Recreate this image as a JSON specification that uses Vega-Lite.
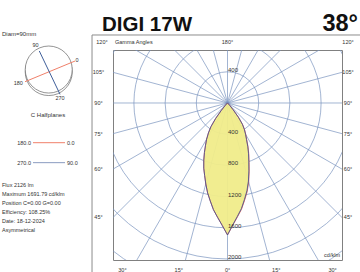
{
  "$schema": "https://vega.github.io/schema/vega-lite/v6.json",
  "width": 229,
  "height": 210,
  "autosize": {"type": "none"},
  "padding": {"left": 113, "top": 50, "right": 18, "bottom": 12},
  "background": "white",
  "data": {"values": [{}]},
  "config": {
    "view": {"stroke": "#808080", "strokeWidth": 1},
    "font": "Liberation Sans",
    "text": {"font": "Liberation Sans", "color": "#333333", "fontSize": 6}
  },
  "datasets": {
    "curves": [
      {"plane": "C0-C180", "angle": -50, "I": 0},
      {"plane": "C0-C180", "angle": -45, "I": 15},
      {"plane": "C0-C180", "angle": -42.5, "I": 50},
      {"plane": "C0-C180", "angle": -40, "I": 120},
      {"plane": "C0-C180", "angle": -37.5, "I": 250},
      {"plane": "C0-C180", "angle": -35, "I": 370},
      {"plane": "C0-C180", "angle": -32.5, "I": 455},
      {"plane": "C0-C180", "angle": -30, "I": 535},
      {"plane": "C0-C180", "angle": -27.5, "I": 610},
      {"plane": "C0-C180", "angle": -25, "I": 700},
      {"plane": "C0-C180", "angle": -22.5, "I": 795},
      {"plane": "C0-C180", "angle": -20, "I": 890},
      {"plane": "C0-C180", "angle": -17.5, "I": 975},
      {"plane": "C0-C180", "angle": -15, "I": 1075},
      {"plane": "C0-C180", "angle": -12.5, "I": 1180},
      {"plane": "C0-C180", "angle": -10, "I": 1275},
      {"plane": "C0-C180", "angle": -7.5, "I": 1380},
      {"plane": "C0-C180", "angle": -5, "I": 1470},
      {"plane": "C0-C180", "angle": -2.5, "I": 1570},
      {"plane": "C0-C180", "angle": 0, "I": 1691.79},
      {"plane": "C0-C180", "angle": 2.5, "I": 1568},
      {"plane": "C0-C180", "angle": 5, "I": 1466},
      {"plane": "C0-C180", "angle": 7.5, "I": 1375},
      {"plane": "C0-C180", "angle": 10, "I": 1265},
      {"plane": "C0-C180", "angle": 12.5, "I": 1165},
      {"plane": "C0-C180", "angle": 15, "I": 1050},
      {"plane": "C0-C180", "angle": 17.5, "I": 925},
      {"plane": "C0-C180", "angle": 20, "I": 810},
      {"plane": "C0-C180", "angle": 22.5, "I": 715},
      {"plane": "C0-C180", "angle": 25, "I": 625},
      {"plane": "C0-C180", "angle": 27.5, "I": 535},
      {"plane": "C0-C180", "angle": 30, "I": 470},
      {"plane": "C0-C180", "angle": 32.5, "I": 410},
      {"plane": "C0-C180", "angle": 35, "I": 340},
      {"plane": "C0-C180", "angle": 37.5, "I": 235},
      {"plane": "C0-C180", "angle": 40, "I": 115},
      {"plane": "C0-C180", "angle": 42.5, "I": 50},
      {"plane": "C0-C180", "angle": 45, "I": 15},
      {"plane": "C0-C180", "angle": 50, "I": 0},
      {"plane": "C90-C270", "angle": -50, "I": 0},
      {"plane": "C90-C270", "angle": -45, "I": 15},
      {"plane": "C90-C270", "angle": -42.5, "I": 50},
      {"plane": "C90-C270", "angle": -40, "I": 120},
      {"plane": "C90-C270", "angle": -37.5, "I": 250},
      {"plane": "C90-C270", "angle": -35, "I": 370},
      {"plane": "C90-C270", "angle": -32.5, "I": 455},
      {"plane": "C90-C270", "angle": -30, "I": 535},
      {"plane": "C90-C270", "angle": -27.5, "I": 610},
      {"plane": "C90-C270", "angle": -25, "I": 700},
      {"plane": "C90-C270", "angle": -22.5, "I": 795},
      {"plane": "C90-C270", "angle": -20, "I": 890},
      {"plane": "C90-C270", "angle": -17.5, "I": 975},
      {"plane": "C90-C270", "angle": -15, "I": 1075},
      {"plane": "C90-C270", "angle": -12.5, "I": 1180},
      {"plane": "C90-C270", "angle": -10, "I": 1275},
      {"plane": "C90-C270", "angle": -7.5, "I": 1380},
      {"plane": "C90-C270", "angle": -5, "I": 1470},
      {"plane": "C90-C270", "angle": -2.5, "I": 1570},
      {"plane": "C90-C270", "angle": 0, "I": 1691.79},
      {"plane": "C90-C270", "angle": 2.5, "I": 1562},
      {"plane": "C90-C270", "angle": 5, "I": 1458},
      {"plane": "C90-C270", "angle": 7.5, "I": 1365},
      {"plane": "C90-C270", "angle": 10, "I": 1254},
      {"plane": "C90-C270", "angle": 12.5, "I": 1152},
      {"plane": "C90-C270", "angle": 15, "I": 1036},
      {"plane": "C90-C270", "angle": 17.5, "I": 912},
      {"plane": "C90-C270", "angle": 20, "I": 798},
      {"plane": "C90-C270", "angle": 22.5, "I": 704},
      {"plane": "C90-C270", "angle": 25, "I": 615},
      {"plane": "C90-C270", "angle": 27.5, "I": 527},
      {"plane": "C90-C270", "angle": 30, "I": 462},
      {"plane": "C90-C270", "angle": 32.5, "I": 402},
      {"plane": "C90-C270", "angle": 35, "I": 332},
      {"plane": "C90-C270", "angle": 37.5, "I": 228},
      {"plane": "C90-C270", "angle": 40, "I": 110},
      {"plane": "C90-C270", "angle": 42.5, "I": 46},
      {"plane": "C90-C270", "angle": 45, "I": 13},
      {"plane": "C90-C270", "angle": 50, "I": 0}
    ],
    "rings": [{"I": 400}, {"I": 800}, {"I": 1200}, {"I": 1600}, {"I": 2000}, {"I": 2400}],
    "ringLabels": [
      {"gamma": 180, "I": 400},
      {"gamma": 0, "I": 400},
      {"gamma": 0, "I": 800},
      {"gamma": 0, "I": 1200},
      {"gamma": 0, "I": 1600},
      {"gamma": 0, "I": 2000}
    ],
    "spokes": [
      {"gamma": 0}, {"gamma": 15}, {"gamma": 30}, {"gamma": 45}, {"gamma": 60}, {"gamma": 75},
      {"gamma": 90}, {"gamma": 105}, {"gamma": 120}, {"gamma": 135}, {"gamma": 150}, {"gamma": 165},
      {"gamma": 180}, {"gamma": 195}, {"gamma": 210}, {"gamma": 225}, {"gamma": 240}, {"gamma": 255},
      {"gamma": 270}, {"gamma": 285}, {"gamma": 300}, {"gamma": 315}, {"gamma": 330}, {"gamma": 345}
    ],
    "sideLabels": [{"gamma": 45}, {"gamma": 60}, {"gamma": 75}, {"gamma": 90}, {"gamma": 105}],
    "bottomLabels": [{"gamma": -30}, {"gamma": -15}, {"gamma": 0}, {"gamma": 15}, {"gamma": 30}]
  },
  "layer": [
    {
      "transform": [{"calculate": "-1737", "as": "xa"}, {"calculate": "1800", "as": "xb"}, {"calculate": "872", "as": "ya"}],
      "mark": {"type": "rule", "color": "#8c8c8c", "strokeWidth": 1},
      "encoding": {
        "x": {"field": "xa", "type": "quantitative", "scale": {"domain": [-1468, 1468], "nice": false, "zero": false}, "axis": null},
        "x2": {"field": "xb"},
        "y": {"field": "ya", "type": "quantitative", "scale": {"domain": [-2013, 679.5], "nice": false, "zero": false}, "axis": null}
      }
    },
    {
      "transform": [{"calculate": "-1737", "as": "xa"}, {"calculate": "872", "as": "ya"}, {"calculate": "-2300", "as": "yb"}],
      "mark": {"type": "rule", "color": "#8c8c8c", "strokeWidth": 1},
      "encoding": {
        "x": {"field": "xa", "type": "quantitative", "axis": null},
        "y": {"field": "ya", "type": "quantitative", "axis": null},
        "y2": {"field": "yb"}
      }
    },
    {
      "data": {"name": "spokes"},
      "transform": [
        {"calculate": "0", "as": "cx"},
        {"calculate": "0", "as": "cy"},
        {"calculate": "3200*sin(datum.gamma*PI/180)", "as": "ex"},
        {"calculate": "-3200*cos(datum.gamma*PI/180)", "as": "ey"}
      ],
      "mark": {"type": "rule", "color": "#7a93bf", "strokeWidth": 0.7, "clip": true},
      "encoding": {
        "x": {"field": "cx", "type": "quantitative", "axis": null},
        "y": {"field": "cy", "type": "quantitative", "axis": null},
        "x2": {"field": "ex"},
        "y2": {"field": "ey"}
      }
    },
    {
      "data": {"name": "rings"},
      "mark": {"type": "point", "shape": "circle", "filled": false, "stroke": "#7a93bf", "strokeWidth": 0.7, "opacity": 1, "clip": true},
      "encoding": {
        "x": {"datum": 0, "type": "quantitative", "axis": null},
        "y": {"datum": 0, "type": "quantitative", "axis": null},
        "size": {"field": "I", "type": "quantitative", "scale": {"type": "pow", "exponent": 2, "domain": [0, 2000], "range": [0, 97344]}, "legend": null}
      }
    },
    {
      "data": {"name": "curves"},
      "transform": [
        {"filter": "datum.plane == 'C0-C180'"},
        {"calculate": "datum.I*sin(datum.angle*PI/180)", "as": "px"},
        {"calculate": "-datum.I*cos(datum.angle*PI/180)", "as": "py"}
      ],
      "mark": {"type": "line", "fill": "#f0ec8a", "fillOpacity": 0.95, "strokeWidth": 0, "interpolate": "linear-closed"},
      "encoding": {
        "x": {"field": "px", "type": "quantitative", "axis": null},
        "y": {"field": "py", "type": "quantitative", "axis": null},
        "order": {"field": "angle", "type": "quantitative"}
      }
    },
    {
      "data": {"name": "curves"},
      "transform": [
        {"calculate": "datum.I*sin(datum.angle*PI/180)", "as": "px"},
        {"calculate": "-datum.I*cos(datum.angle*PI/180)", "as": "py"}
      ],
      "mark": {"type": "line", "strokeWidth": 0.8},
      "encoding": {
        "x": {"field": "px", "type": "quantitative", "axis": null},
        "y": {"field": "py", "type": "quantitative", "axis": null},
        "order": {"field": "angle", "type": "quantitative"},
        "color": {"field": "plane", "type": "nominal", "scale": {"domain": ["C0-C180", "C90-C270"], "range": ["#d9534f", "#3d4f93"]}, "legend": null}
      }
    },
    {
      "data": {"name": "ringLabels"},
      "transform": [{"calculate": "-datum.I*cos(datum.gamma*PI/180)", "as": "ly"}],
      "mark": {"type": "text", "align": "left", "baseline": "middle", "dx": 0.5, "dy": -2, "fontSize": 6},
      "encoding": {
        "x": {"datum": 0, "type": "quantitative", "axis": null},
        "y": {"field": "ly", "type": "quantitative", "axis": null},
        "text": {"field": "I", "type": "quantitative"}
      }
    },
    {
      "data": {"name": "sideLabels"},
      "transform": [
        {"calculate": "-1468*cos(datum.gamma*PI/180)/sin(datum.gamma*PI/180)", "as": "ly"},
        {"calculate": "datum.gamma + '°'", "as": "lab"}
      ],
      "mark": {"type": "text", "align": "center", "baseline": "middle", "fontSize": 5.5},
      "encoding": {
        "x": {"datum": 1545, "type": "quantitative", "axis": null},
        "y": {"field": "ly", "type": "quantitative", "axis": null},
        "text": {"field": "lab", "type": "nominal"}
      }
    },
    {
      "data": {"name": "sideLabels"},
      "transform": [
        {"calculate": "-1468*cos(datum.gamma*PI/180)/sin(datum.gamma*PI/180)", "as": "ly"},
        {"calculate": "datum.gamma + '°'", "as": "lab"}
      ],
      "mark": {"type": "text", "align": "center", "baseline": "middle", "fontSize": 5.5},
      "encoding": {
        "x": {"datum": -1654, "type": "quantitative", "axis": null},
        "y": {"field": "ly", "type": "quantitative", "axis": null},
        "text": {"field": "lab", "type": "nominal"}
      }
    },
    {
      "data": {"name": "bottomLabels"},
      "transform": [
        {"calculate": "2333*tan(datum.gamma*PI/180)", "as": "lx"},
        {"calculate": "abs(datum.gamma) + '°'", "as": "lab"}
      ],
      "mark": {"type": "text", "align": "center", "baseline": "middle", "fontSize": 5.5},
      "encoding": {
        "x": {"field": "lx", "type": "quantitative", "axis": null},
        "y": {"datum": -2147, "type": "quantitative", "axis": null},
        "text": {"field": "lab", "type": "nominal"}
      }
    },
    {"mark": {"type": "text", "text": "120°", "align": "center", "baseline": "middle", "fontSize": 5.5}, "encoding": {"x": {"datum": -1609, "type": "quantitative", "axis": null}, "y": {"datum": 776, "type": "quantitative", "axis": null}}},
    {"mark": {"type": "text", "text": "Gamma Angles", "align": "left", "baseline": "middle", "fontSize": 5.5}, "encoding": {"x": {"datum": -1442, "type": "quantitative", "axis": null}, "y": {"datum": 776, "type": "quantitative", "axis": null}}},
    {"mark": {"type": "text", "text": "180°", "align": "center", "baseline": "middle", "fontSize": 5.5}, "encoding": {"x": {"datum": 0, "type": "quantitative", "axis": null}, "y": {"datum": 776, "type": "quantitative", "axis": null}}},
    {"mark": {"type": "text", "text": "120°", "align": "center", "baseline": "middle", "fontSize": 5.5}, "encoding": {"x": {"datum": 1545, "type": "quantitative", "axis": null}, "y": {"datum": 776, "type": "quantitative", "axis": null}}},
    {"mark": {"type": "text", "text": "cd/klm", "align": "right", "baseline": "middle", "fontSize": 5.5}, "encoding": {"x": {"datum": 1442, "type": "quantitative", "axis": null}, "y": {"datum": -1949, "type": "quantitative", "axis": null}}},
    {"mark": {"type": "text", "text": "DIGI 17W", "align": "left", "baseline": "alphabetic", "fontSize": 20.5, "fontWeight": "bold", "color": "#111111"}, "encoding": {"x": {"datum": -1609, "type": "quantitative", "axis": null}, "y": {"datum": 917, "type": "quantitative", "axis": null}}},
    {"mark": {"type": "text", "text": "38°", "align": "right", "baseline": "alphabetic", "fontSize": 23.5, "fontWeight": "bold", "color": "#111111"}, "encoding": {"x": {"datum": 1673, "type": "quantitative", "axis": null}, "y": {"datum": 917, "type": "quantitative", "axis": null}}},
    {"mark": {"type": "text", "text": "Diam=90mm", "align": "left", "baseline": "middle", "fontSize": 6}, "encoding": {"x": {"datum": -2891, "type": "quantitative", "axis": null}, "y": {"datum": 881, "type": "quantitative", "axis": null}}},
    {"mark": {"type": "point", "shape": "circle", "filled": false, "stroke": "#666666", "strokeWidth": 0.7, "opacity": 1, "size": 2209}, "encoding": {"x": {"datum": -2292, "type": "quantitative", "axis": null}, "y": {"datum": 397, "type": "quantitative", "axis": null}}},
    {"mark": {"type": "point", "shape": "circle", "filled": true, "fill": "white", "stroke": "#666666", "strokeWidth": 0.7, "opacity": 1, "size": 2209}, "encoding": {"x": {"datum": -2292, "type": "quantitative", "axis": null}, "y": {"datum": 429, "type": "quantitative", "axis": null}}},
    {
      "transform": [{"calculate": "-2596", "as": "xa"}, {"calculate": "-1955", "as": "xb"}, {"calculate": "273", "as": "ya"}, {"calculate": "538", "as": "yb"}],
      "mark": {"type": "rule", "color": "#f0806a", "strokeWidth": 1},
      "encoding": {"x": {"field": "xa", "type": "quantitative", "axis": null}, "x2": {"field": "xb"}, "y": {"field": "ya", "type": "quantitative", "axis": null}, "y2": {"field": "yb"}}
    },
    {
      "transform": [{"calculate": "-2413", "as": "xa"}, {"calculate": "-2147", "as": "xb"}, {"calculate": "667", "as": "ya"}, {"calculate": "111", "as": "yb"}],
      "mark": {"type": "rule", "color": "#3f5f9a", "strokeWidth": 1},
      "encoding": {"x": {"field": "xa", "type": "quantitative", "axis": null}, "x2": {"field": "xb"}, "y": {"field": "ya", "type": "quantitative", "axis": null}, "y2": {"field": "yb"}}
    },
    {"mark": {"type": "text", "text": "90", "align": "center", "baseline": "middle", "fontSize": 5.5}, "encoding": {"x": {"datum": -2462, "type": "quantitative", "axis": null}, "y": {"datum": 744, "type": "quantitative", "axis": null}}},
    {"mark": {"type": "text", "text": "0", "align": "center", "baseline": "middle", "fontSize": 5.5}, "encoding": {"x": {"datum": -1929, "type": "quantitative", "axis": null}, "y": {"datum": 547, "type": "quantitative", "axis": null}}},
    {"mark": {"type": "text", "text": "180", "align": "center", "baseline": "middle", "fontSize": 5.5}, "encoding": {"x": {"datum": -2682, "type": "quantitative", "axis": null}, "y": {"datum": 253, "type": "quantitative", "axis": null}}},
    {"mark": {"type": "text", "text": "270", "align": "center", "baseline": "middle", "fontSize": 5.5}, "encoding": {"x": {"datum": -2147, "type": "quantitative", "axis": null}, "y": {"datum": 60, "type": "quantitative", "axis": null}}},
    {"mark": {"type": "text", "text": "C Halfplanes", "align": "center", "baseline": "middle", "fontSize": 6}, "encoding": {"x": {"datum": -2301, "type": "quantitative", "axis": null}, "y": {"datum": -154, "type": "quantitative", "axis": null}}},
    {
      "transform": [{"calculate": "-2494", "as": "xa"}, {"calculate": "-2083", "as": "xb"}, {"calculate": "-509", "as": "ya"}],
      "mark": {"type": "rule", "color": "#f0806a", "strokeWidth": 1},
      "encoding": {"x": {"field": "xa", "type": "quantitative", "axis": null}, "x2": {"field": "xb"}, "y": {"field": "ya", "type": "quantitative", "axis": null}}
    },
    {
      "transform": [{"calculate": "-2494", "as": "xa"}, {"calculate": "-2083", "as": "xb"}, {"calculate": "-765", "as": "ya"}],
      "mark": {"type": "rule", "color": "#8a9cc0", "strokeWidth": 1},
      "encoding": {"x": {"field": "xa", "type": "quantitative", "axis": null}, "x2": {"field": "xb"}, "y": {"field": "ya", "type": "quantitative", "axis": null}}
    },
    {"mark": {"type": "text", "text": "180.0", "align": "right", "baseline": "middle", "fontSize": 5.5}, "encoding": {"x": {"datum": -2520, "type": "quantitative", "axis": null}, "y": {"datum": -509, "type": "quantitative", "axis": null}}},
    {"mark": {"type": "text", "text": "0.0", "align": "left", "baseline": "middle", "fontSize": 5.5}, "encoding": {"x": {"datum": -2058, "type": "quantitative", "axis": null}, "y": {"datum": -509, "type": "quantitative", "axis": null}}},
    {"mark": {"type": "text", "text": "270.0", "align": "right", "baseline": "middle", "fontSize": 5.5}, "encoding": {"x": {"datum": -2520, "type": "quantitative", "axis": null}, "y": {"datum": -765, "type": "quantitative", "axis": null}}},
    {"mark": {"type": "text", "text": "90.0", "align": "left", "baseline": "middle", "fontSize": 5.5}, "encoding": {"x": {"datum": -2058, "type": "quantitative", "axis": null}, "y": {"datum": -765, "type": "quantitative", "axis": null}}},
    {"mark": {"type": "text", "text": ["Flux 2126  lm", "Maximum 1691.79  cd/klm", "Position C=0.00 G=0.00", "Efficiency: 108.25%", "Date: 18-12-2024", "Asymmetrical"], "lineHeight": 9.1, "align": "left", "baseline": "alphabetic", "fontSize": 5.5}, "encoding": {"x": {"datum": -2891, "type": "quantitative", "axis": null}, "y": {"datum": -1077, "type": "quantitative", "axis": null}}}
  ]
}
